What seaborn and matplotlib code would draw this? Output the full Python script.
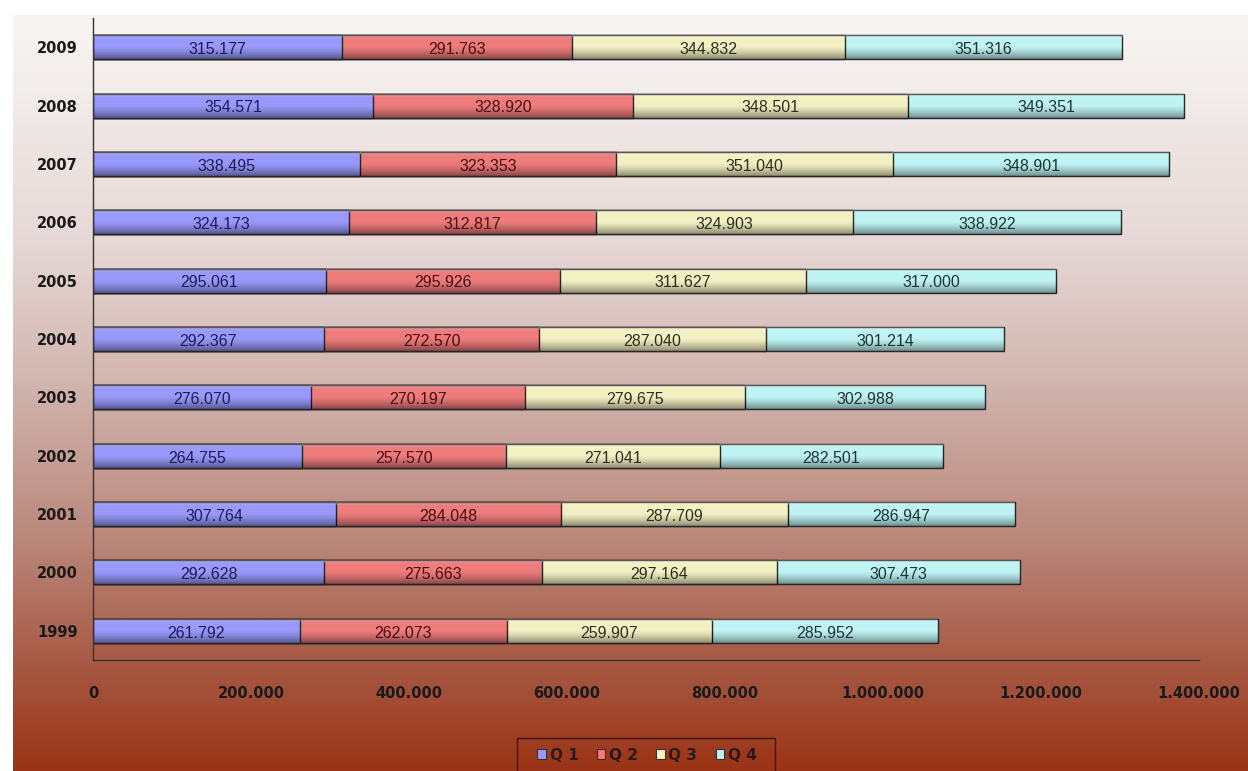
import matplotlib
matplotlib.use("Agg")
import matplotlib.pyplot as plt
import numpy as np
import pandas as pd
import seaborn as sns
from matplotlib.colors import LinearSegmentedColormap
from matplotlib.patches import Patch, Rectangle
from matplotlib.ticker import FuncFormatter

# values per year, top row of the chart first
years = ["2009", "2008", "2007", "2006", "2005", "2004", "2003", "2002", "2001", "2000", "1999"]
q1 = [315177, 354571, 338495, 324173, 295061, 292367, 276070, 264755, 307764, 292628, 261792]
q2 = [291763, 328920, 323353, 312817, 295926, 272570, 270197, 257570, 284048, 275663, 262073]
q3 = [344832, 348501, 351040, 324903, 311627, 287040, 279675, 271041, 287709, 297164, 259907]
q4 = [351316, 349351, 348901, 338922, 317000, 301214, 302988, 282501, 286947, 307473, 285952]
quarters = ["Q 1", "Q 2", "Q 3", "Q 4"]
x_ticks = [0, 200000, 400000, 600000, 800000, 1000000, 1200000, 1400000]

bar_colors = ["#9999fb", "#ee7c7c", "#f3f1c4", "#c0f4f4"]
label_colors = ["#1c1c5a", "#4a0e0e", "#2e2e1e", "#1c3434"]
BAR_W = 0.41


def dotted(v, _pos=None):
    """Thousands separator as a dot, e.g. 1.200.000"""
    return f"{int(v):,}".replace(",", ".")


df = pd.DataFrame({"year": years, "Q 1": q1, "Q 2": q2, "Q 3": q3, "Q 4": q4})
cum = df[quarters].cumsum(axis=1)
cum["year"] = df["year"]

sns.set_style("white")
plt.rcParams["font.family"] = ["Liberation Sans", "DejaVu Sans"]

W, H = 1248, 771
fig = plt.figure(figsize=(W / 100, H / 100), dpi=100)
fig.patch.set_facecolor("white")

# gradient backdrop (white-ish top to brick red bottom)
bg_cmap = LinearSegmentedColormap.from_list(
    "bg",
    [(0.0, "#f8f6f4"), (0.30, "#e6d8d6"), (0.50, "#d0b2ac"),
     (0.70, "#b98679"), (0.85, "#a85c47"), (1.0, "#9b3417")],
)
bg = fig.add_axes([13 / W, 0, 1 - 13 / W, 1 - 15 / H], zorder=0)
bg.imshow(np.linspace(0, 1, 400).reshape(-1, 1), aspect="auto", cmap=bg_cmap,
          extent=[0, 1, 0, 1], origin="upper")
bg.axis("off")

ax = fig.add_axes([93 / W, 1 - 660 / H, (1199 - 93) / W, (660 - 18) / H], zorder=1)
ax.patch.set_alpha(0)

# stacked bars: draw the cumulative totals, widest first
for i in reversed(range(4)):
    sns.barplot(data=cum, x=quarters[i], y="year", order=years, orient="h",
                color=bar_colors[i], saturation=1, width=BAR_W,
                edgecolor="#262626", linewidth=1, ax=ax)

# soft bevel shading on each segment (darker towards the bottom edge)
shade = np.zeros((60, 2, 4))
ramp = np.linspace(0, 1, 60)
shade[:, :, 3] = np.where(ramp < 0.12, 0.0, np.clip((ramp - 0.45) / 0.55, 0, 1) ** 1.4 * 0.42)[:, None]
hi = np.zeros((60, 2, 4))
hi[:, :, :3] = 1.0
hi[:, :, 3] = np.clip((0.15 - ramp) / 0.15, 0, 1)[:, None] * 0.25

for r in range(len(years)):
    left = 0
    for i, q in enumerate(quarters):
        val = df.loc[r, q]
        right = cum.loc[r, q]
        ext = (left, right, r + BAR_W / 2, r - BAR_W / 2)
        ax.imshow(shade, extent=ext, origin="upper", aspect="auto", zorder=2.1,
                  interpolation="bilinear")
        ax.imshow(hi, extent=ext, origin="upper", aspect="auto", zorder=2.1,
                  interpolation="bilinear")
        ax.text((left + right) / 2, r + 0.04, dotted(val), ha="center", va="center",
                fontsize=11.5, color=label_colors[i], family="Liberation Sans", zorder=4)
        left = right

ax.set_xlim(0, 1400000)
ax.set_ylim(len(years) - 0.5, -0.5)
ax.set_aspect("auto")
ax.set_xticks(x_ticks)
ax.xaxis.set_major_formatter(FuncFormatter(dotted))
ax.set_xlabel("")
ax.set_ylabel("")

for lbl in ax.get_xticklabels() + ax.get_yticklabels():
    lbl.set_family("DejaVu Sans")
    lbl.set_fontweight("bold")
    lbl.set_fontsize(10.5)
    lbl.set_color("#1a1a1a")

ax.tick_params(axis="x", direction="out", length=5, width=1, color="#333333", pad=14)
ax.tick_params(axis="y", length=0, pad=11)

sns.despine(ax=ax, top=True, right=True)
for side in ("left", "bottom"):
    ax.spines[side].set_color("#333333")
    ax.spines[side].set_linewidth(1)
    ax.spines[side].set_zorder(5)

# legend: entries without frame, plus a separate box like the original
handles = [Patch(facecolor=c, edgecolor="#333333", linewidth=0.8) for c in bar_colors]
leg = fig.legend(handles, quarters, loc="center",
                 bbox_to_anchor=(647 / W, 1 - 755 / H), ncol=4,
                 frameon=False, borderpad=0, borderaxespad=0,
                 handlelength=0.55, handleheight=0.55, handletextpad=0.25,
                 columnspacing=1.2,
                 prop={"family": "DejaVu Sans", "weight": "bold", "size": 11})
for t in leg.get_texts():
    t.set_color("#2a1a1a")
fig.patches.append(Rectangle((517 / W, -0.01), (775 - 517) / W, 0.01 + (771 - 738) / H,
                             transform=fig.transFigure, fill=False,
                             edgecolor="#3a1a10", linewidth=1))

fig.savefig("out.png", dpi=100)
